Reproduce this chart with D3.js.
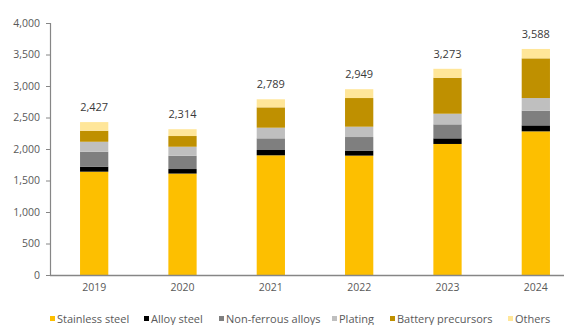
<!DOCTYPE html>
<html>
<head>
<meta charset="utf-8">
<script src="https://cdn.jsdelivr.net/npm/d3@7/dist/d3.min.js"></script>
<style>
  html, body { margin: 0; padding: 0; background: #fff; }
  svg { display: block; font-family: "Open Sans", sans-serif; }
</style>
</head>
<body>
<svg id="chart" width="564" height="325"></svg>
<script>
// Demand by end use, thousand tonnes
const years = ["2019", "2020", "2021", "2022", "2023", "2024"];
const seriesNames = ["Stainless steel", "Alloy steel", "Non-ferrous alloys", "Plating", "Battery precursors", "Others"];
const stainless = [1640, 1610, 1900, 1895, 2080, 2280];
const alloy     = [80, 72, 84, 80, 89, 95];
const nonFerrous = [237, 211, 185, 215, 222, 233];
const plating   = [158, 143, 169, 164, 169, 201];
const battery   = [175, 170, 323, 455, 571, 630];
const others    = [137, 108, 128, 140, 142, 149];
const totals    = [2427, 2314, 2789, 2949, 3273, 3588];
const yTicks    = [0, 500, 1000, 1500, 2000, 2500, 3000, 3500, 4000];

const colors = ["#FDBF00", "#000000", "#7F7F7F", "#BFBFBF", "#BF9000", "#FFE699"];
const seriesValues = [stainless, alloy, nonFerrous, plating, battery, others];

const rows = years.map((y, i) => {
  const r = { year: y };
  seriesNames.forEach((s, k) => r[s] = seriesValues[k][i]);
  return r;
});

const svg = d3.select("#chart");
const x = d3.scaleBand().domain(years).range([50, 580]).paddingInner(0.68).paddingOuter(0.34);
const y = d3.scaleLinear().domain([0, 4000]).range([275, 23]);

const stack = d3.stack().keys(seriesNames);
const layers = stack(rows);

svg.append("g").selectAll("g")
  .data(layers)
  .join("g")
  .attr("fill", (d, i) => colors[i])
  .selectAll("rect")
  .data(d => d)
  .join("rect")
  .attr("x", d => x(d.data.year))
  .attr("width", x.bandwidth())
  .attr("y", d => y(d[1]))
  .attr("height", d => y(d[0]) - y(d[1]));

// Total labels above each bar
svg.append("g").selectAll("text")
  .data(years)
  .join("text")
  .attr("x", d => x(d) + x.bandwidth() / 2)
  .attr("y", (d, i) => y(totals[i]) - 11)
  .attr("text-anchor", "middle")
  .attr("font-size", "11px")
  .attr("fill", "#3a3a3a")
  .text((d, i) => d3.format(",")(totals[i]));

// Y axis
const yAxis = svg.append("g")
  .attr("transform", "translate(50,0)")
  .call(d3.axisLeft(y).tickValues(yTicks).tickFormat(d3.format(",")).tickSize(4).tickPadding(6));
yAxis.select(".domain").attr("stroke", "#868686").attr("stroke-width", 1.2).attr("d", "M-4,23.5H0.5V275");
yAxis.selectAll(".tick line").attr("stroke", "#868686");
yAxis.selectAll(".tick text").attr("font-size", "10.5px").attr("fill", "#595959").attr("font-family", "Open Sans, sans-serif");

// X axis
const xAxis = svg.append("g")
  .attr("transform", "translate(0,275)")
  .call(d3.axisBottom(x).tickSize(0).tickPadding(9));
xAxis.select(".domain").attr("stroke", "#868686").attr("stroke-width", 1.4).attr("d", "M50,0.5H580");
xAxis.selectAll(".tick text").attr("font-size", "10.5px").attr("fill", "#595959").attr("font-family", "Open Sans, sans-serif");

// Legend
const legendX = [50, 144, 219, 332, 390, 508];
const legend = svg.append("g").attr("transform", "translate(0,319)");
const item = legend.selectAll("g")
  .data(seriesNames)
  .join("g")
  .attr("transform", (d, i) => `translate(${legendX[i]},0)`);
item.append("rect").attr("x", 0).attr("y", -3).attr("width", 5).attr("height", 5)
  .attr("fill", (d, i) => colors[i]);
item.append("text").attr("x", 7).attr("y", 4)
  .attr("font-size", "11px").attr("fill", "#595959")
  .text(d => d);
</script>
</body>
</html>
